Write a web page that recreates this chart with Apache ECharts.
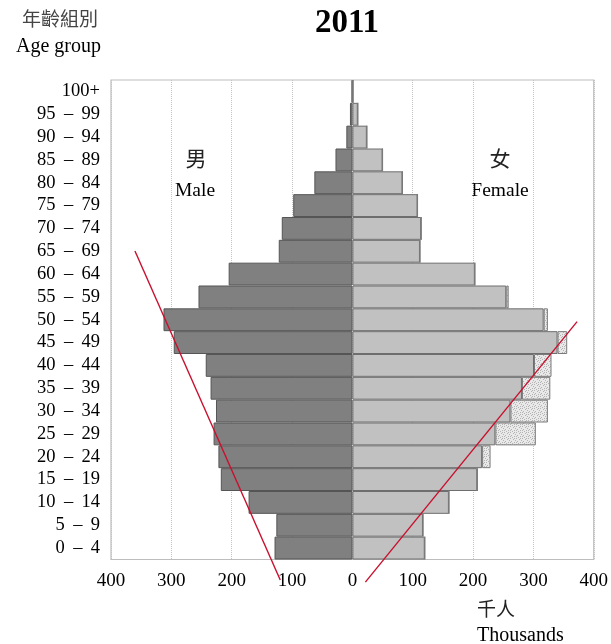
<!DOCTYPE html>
<html>
<head>
<meta charset="utf-8">
<script src="https://cdn.jsdelivr.net/npm/echarts@6/dist/echarts.min.js"></script>
<style>
  html, body { margin: 0; padding: 0; background: #fff; }
  #chart { width: 611px; height: 644px; }
</style>
</head>
<body>
<div id="chart"></div>
<script>
// ---- Data (thousands) ----
const ageGroups = ["0 – 4", "5 – 9", "10 – 14", "15 – 19", "20 – 24", "25 – 29", "30 – 34",
  "35 – 39", "40 – 44", "45 – 49", "50 – 54", "55 – 59", "60 – 64", "65 – 69",
  "70 – 74", "75 – 79", "80 – 84", "85 – 89", "90 – 94", "95 – 99", "100+"];
const maleValues = [129, 126, 172, 218, 222, 230, 226, 235, 243, 296, 313, 255, 205, 122, 117, 98, 63, 28, 10, 4, 1];
const femaleMain = [120, 117, 160, 207, 215, 237, 262, 281, 301, 340, 317, 255, 203, 112, 114, 108, 83, 50, 24, 9, 1];
const femaleDotted = [0, 0, 0, 0, 14, 67, 62, 47, 29, 16, 7, 4, 0, 0, 0, 0, 0, 0, 0, 0, 0];
const xTicks = [-400, -300, -200, -100, 0, 100, 200, 300, 400];
// annotation red lines: [thousands, age-band position]
const redLineLeft = [[-360.3, 13.51], [-119.5, -0.90]];
const redLineRight = [[372.4, 10.42], [21.5, -0.99]];

const serif = "'Liberation Serif', 'DejaVu Serif', serif";
const cjk = "'Noto Sans CJK TC', 'Noto Sans CJK SC', sans-serif";

// stipple pattern
const pc = document.createElement('canvas');
pc.width = 6; pc.height = 6;
const pctx = pc.getContext('2d');
pctx.fillStyle = '#e9e9e9';
pctx.fillRect(0, 0, 6, 6);
pctx.fillStyle = '#b3b3b3';
[[0, 0], [3, 1], [1, 3], [4, 4], [2, 5], [5, 2], [0, 4], [4, 0]].forEach(p => pctx.fillRect(p[0], p[1], 1, 1));

const chart = echarts.init(document.getElementById('chart'), null, { renderer: 'canvas' });
chart.setOption({
  animation: false,
  backgroundColor: '#fff',
  grid: {
    left: 111, right: 16, top: 80, bottom: 84.5,
    show: true, borderColor: '#bdbdbd', borderWidth: 1.2, containLabel: false
  },
  xAxis: {
    type: 'value', min: -400, max: 400, interval: 100,
    axisLine: { show: false }, axisTick: { show: false },
    splitLine: { show: true, lineStyle: { color: '#c4c4c4', type: 'dotted', width: 1 } },
    axisLabel: {
      margin: 12, color: '#000', fontFamily: serif, fontSize: 19,
      formatter: v => xTicks.includes(v) ? String(Math.abs(v)) : ''
    }
  },
  yAxis: [{
    type: 'category', data: ageGroups,
    axisLine: { show: false }, axisTick: { show: false },
    axisLabel: {
      margin: 11, color: '#000', fontFamily: serif, fontSize: 18.5, interval: 0,
      formatter: s => s.replace(' – ', ' \u2009–\u2009 ')
    }
  }, {
    type: 'value', min: 0, max: 21, show: false
  }],
  series: [{
    name: 'Male', type: 'bar', stack: 'p', barCategoryGap: 0,
    data: maleValues.map(v => -v),
    itemStyle: { color: '#808080', borderColor: '#555', borderWidth: 1 }
  }, {
    name: 'Female', type: 'bar', stack: 'p', barCategoryGap: 0,
    data: femaleMain,
    itemStyle: { color: '#c1c1c1', borderColor: '#6e6e6e', borderWidth: 1 }
  }, {
    name: 'FemaleExtra', type: 'bar', stack: 'p', barCategoryGap: 0,
    data: femaleDotted,
    itemStyle: { color: { image: pc, repeat: 'repeat' }, borderColor: '#7a7a7a', borderWidth: 1 }
  }, {
    type: 'line', yAxisIndex: 1, data: redLineLeft, clip: false, symbol: 'none', silent: true,
    lineStyle: { color: '#c8102e', width: 1.4 }, z: 10
  }, {
    type: 'line', yAxisIndex: 1, data: redLineRight, clip: false, symbol: 'none', silent: true,
    lineStyle: { color: '#c8102e', width: 1.4 }, z: 10
  }],
  graphic: [
    { type: 'text', x: 347, y: 23, style: { text: '2011', font: `bold 33px ${serif}`, fill: '#000', align: 'center', verticalAlign: 'middle' } },
    { type: 'text', x: 22, y: 19, style: { text: '年齡組別', font: `19px ${cjk}`, fill: '#444', verticalAlign: 'middle' } },
    { type: 'text', x: 16, y: 47, style: { text: 'Age group', font: `20px ${serif}`, fill: '#000', verticalAlign: 'middle' } },
    { type: 'text', x: 196, y: 158, style: { text: '男', font: `21px ${cjk}`, fill: '#222', align: 'center', verticalAlign: 'middle' } },
    { type: 'text', x: 195, y: 191, style: { text: 'Male', font: `19.5px ${serif}`, fill: '#000', align: 'center', verticalAlign: 'middle' } },
    { type: 'text', x: 500, y: 158, style: { text: '女', font: `21px ${cjk}`, fill: '#222', align: 'center', verticalAlign: 'middle' } },
    { type: 'text', x: 500, y: 191, style: { text: 'Female', font: `19.5px ${serif}`, fill: '#000', align: 'center', verticalAlign: 'middle' } },
    { type: 'text', x: 477, y: 609, style: { text: '千人', font: `19px ${cjk}`, fill: '#222', verticalAlign: 'middle' } },
    { type: 'text', x: 477, y: 636, style: { text: 'Thousands', font: `20px ${serif}`, fill: '#000', verticalAlign: 'middle' } }
  ]
});
</script>
</body>
</html>
